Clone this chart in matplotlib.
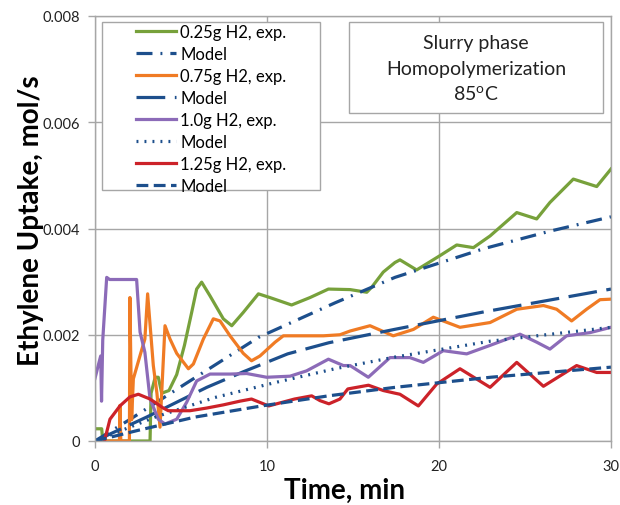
import matplotlib
matplotlib.use("Agg")
import matplotlib.pyplot as plt
from matplotlib.patches import Rectangle

plt.rcParams['font.family'] = ['Lato', 'DejaVu Sans']

# ---- data ----
green_t = [0, 0.39, 0.45, 3.2, 3.26, 3.5, 3.68, 3.88, 4.3, 4.75, 5.2, 5.62, 5.91, 6.2, 6.69, 7.46, 7.95,
           8.62, 9.5, 10.17, 11.43, 12.5, 13.57, 14.83, 15.8, 16.1, 16.76, 17.44, 17.73, 18.7, 20.06,
           21.03, 22.0, 22.97, 24.52, 25.68, 26.45, 27.81, 29.17, 30]
green_v = [0.00023, 0.00023, 0, 0, 0.0009, 0.0012, 0.0012, 0.0009, 0.00095, 0.00125, 0.0018, 0.00242,
           0.00286, 0.00299, 0.00273, 0.0023, 0.00217, 0.00242, 0.00277, 0.0027, 0.00256, 0.0027,
           0.00286, 0.00285, 0.0028, 0.0029, 0.00318, 0.00336, 0.00341, 0.00322, 0.00349, 0.00369,
           0.00364, 0.00386, 0.0043, 0.00418, 0.00449, 0.00493, 0.00479, 0.00512]

orange_t = [0, 1.42, 1.45, 1.5, 2.0, 2.03, 2.13, 2.23, 2.62, 2.9, 3.06, 3.39, 3.6, 3.78, 4.07, 4.36,
            4.75, 5.43, 5.72, 6.3, 6.88, 7.27, 7.85, 8.62, 9.1, 9.59, 10.47, 10.95, 12.11, 13.28,
            14.24, 14.83, 15.99, 17.34, 18.51, 19.67, 21.22, 22.97, 24.52, 26.07, 26.84, 27.71,
            28.58, 29.36, 30]
orange_v = [0, 0, 0.00067, 0, 0, 0.0027, 0.0004, 0.00117, 0.00161, 0.00192, 0.00277, 0.00142, 0.0009,
            0.00026, 0.00217, 0.00192, 0.00165, 0.00136, 0.00145, 0.00192, 0.0023, 0.00226, 0.00198,
            0.00165, 0.00151, 0.0016, 0.00186, 0.00198, 0.00198, 0.00198, 0.002, 0.00207, 0.00217,
            0.00198, 0.0021, 0.00233, 0.00214, 0.00223, 0.00248, 0.00255, 0.00248, 0.00226, 0.00248,
            0.00266, 0.00267]

purple_t = [0, 0.25, 0.33, 0.38, 0.45, 0.68, 0.85, 2.42, 2.62, 2.9, 3.2, 3.68, 4.07, 4.75, 5.33, 5.91,
            6.69, 7.85, 8.82, 9.98, 11.34, 12.3, 13.57, 14.44, 14.83, 15.89, 17.15, 18.31, 19.09,
            20.25, 21.61, 22.97, 24.71, 25.68, 26.45, 27.42, 28.78, 30]
purple_v = [0.00118, 0.0015, 0.0016, 0.00075, 0.0019, 0.00308, 0.00304, 0.00304, 0.00205, 0.00167,
            0.00079, 0.00041, 0.00032, 0.00041, 0.00073, 0.00113, 0.00126, 0.00126, 0.00127, 0.0012,
            0.00122, 0.00132, 0.00154, 0.00142, 0.00142, 0.0012, 0.00157, 0.00157, 0.00148, 0.0017,
            0.00164, 0.0018, 0.00201, 0.00186, 0.00173, 0.00198, 0.00204, 0.00214]

red_t = [0.55, 0.87, 1.45, 2.03, 2.52, 3.2, 3.97, 4.26, 5.52, 6.49, 7.46, 8.43, 9.1, 10.1, 11.6,
         12.6, 13.08, 13.6, 14.24, 14.7, 15.9, 16.76, 17.44, 17.73, 18.8, 19.86, 21.22, 22.97, 24.52,
         26.07, 28.0, 29.17, 30]
red_v = [0, 0.00041, 0.00066, 0.00083, 0.00088, 0.00079, 0.00062, 0.00057, 0.00057, 0.00062, 0.00068,
         0.00075, 0.00079, 0.00066, 0.00079, 0.00085, 0.00076, 0.0007, 0.00079, 0.00098, 0.00105,
         0.00095, 0.0009, 0.00088, 0.00066, 0.00107, 0.00136, 0.00101, 0.00148, 0.00103, 0.00142,
         0.00129, 0.00129]

m025_t = [0, 2, 4.4, 9.5, 13.95, 17.44, 22.6, 26.45, 30]
m025_v = [0, 0.0004, 0.0009, 0.00195, 0.0026, 0.00308, 0.00362, 0.00395, 0.00422]
m075_t = [0, 3, 6.5, 8.6, 11.2, 13.6, 17.4, 22.6, 30]
m075_v = [0, 0.00045, 0.00101, 0.0013, 0.00164, 0.00185, 0.0021, 0.00243, 0.00286]
m100_t = [0, 3.5, 6.98, 10.47, 13.95, 17.44, 23, 30]
m100_v = [0, 0.00045, 0.00082, 0.0011, 0.00136, 0.00158, 0.00188, 0.00214]
m125_t = [0, 2.5, 5.81, 9.69, 13.57, 17.44, 23, 30]
m125_v = [0, 0.0002, 0.00045, 0.00066, 0.00085, 0.00101, 0.0012, 0.00139]

labels = ['0.25g H2, exp.', 'Model', '0.75g H2, exp.', 'Model',
          '1.0g H2, exp.', 'Model', '1.25g H2, exp.', 'Model']
x_ticks = [0, 10, 20, 30]
y_ticks = [0, 0.002, 0.004, 0.006, 0.008]
y_ticklabels = ['0', '0.002', '0.004', '0.006', '0.008']
info_lines = ['Slurry phase', 'Homopolymerization', '85$^{\\mathregular{o}}$C']

# ---- styles ----
GREEN = '#77A13B'
ORANGE = '#F07B24'
PURPLE = '#8C6BB8'
RED = '#CC2229'
BLUE = '#1D4F8C'
GRID = '#A6A6A6'
lw_exp = 2.3
lw_mod = 2.3

W, H = 620, 506
L, R, T, B = 95, 611, 17, 442
fig = plt.figure(figsize=(W / 100, H / 100), dpi=100)
ax = fig.add_axes([L / W, 1 - B / H, (R - L) / W, (B - T) / H])
aw, ah = R - L, B - T

h = []
h += ax.plot(green_t, green_v, color=GREEN, lw=lw_exp, solid_joinstyle='round')
h += ax.plot(m025_t, m025_v, color=BLUE, lw=lw_mod, linestyle=(0, (5, 2.5, 0.6, 2.5)))
h += ax.plot(orange_t, orange_v, color=ORANGE, lw=lw_exp, solid_joinstyle='round')
h += ax.plot(m075_t, m075_v, color=BLUE, lw=lw_mod, linestyle=(0, (9, 3)))
h += ax.plot(purple_t, purple_v, color=PURPLE, lw=lw_exp, solid_joinstyle='round')
h += ax.plot(m100_t, m100_v, color=BLUE, lw=lw_mod, linestyle=(0, (0.6, 1.9)))
h += ax.plot(red_t, red_v, color=RED, lw=lw_exp, solid_joinstyle='round')
h += ax.plot(m125_t, m125_v, color=BLUE, lw=lw_mod, linestyle=(0, (3.7, 1.7)))

ax.set_xlim(0, 30)
ax.set_ylim(0, 0.008)
ax.set_xticks(x_ticks)
ax.set_yticks(y_ticks)
ax.set_yticklabels(y_ticklabels)
ax.grid(True, color=GRID, lw=1)
ax.set_axisbelow(True)
for s in ax.spines.values():
    s.set_color(GRID)
    s.set_linewidth(1)
ax.tick_params(axis='both', colors=GRID, labelcolor='#222222', labelsize=10.5,
               length=5, width=1, direction='out')
ax.tick_params(axis='x', pad=8)
ax.tick_params(axis='y', pad=6)

ax.set_xlabel('Time, min', fontsize=20, fontweight='bold', va='top')
ax.xaxis.set_label_coords((344 - L) / aw, (B - 478) / ah)
ax.set_ylabel('Ethylene Uptake, mol/s', fontsize=20, fontweight='bold')
ax.yaxis.set_label_coords((44 - L) / aw, (B - 221) / ah)

# legend box (drawn separately, as in the reference)
ax.add_patch(Rectangle(((102 - L) / aw, (B - 191) / ah), (320 - 102) / aw, (191 - 23) / ah,
                       transform=ax.transAxes, facecolor='white', edgecolor=GRID, lw=1, zorder=4))
leg = ax.legend(h, labels, loc='upper left', bbox_to_anchor=((136 - L) / aw, (B - 25) / ah),
                borderaxespad=0, borderpad=0, fontsize=12, frameon=False,
                handlelength=2.4, handletextpad=0.25, labelspacing=0.36)
leg.set_zorder(5)

# info box
x0 = (349 - L) / aw
x1 = (603 - L) / aw
y0 = (B - 114) / ah
y1 = (B - 23) / ah
ax.add_patch(Rectangle((x0, y0), x1 - x0, y1 - y0, transform=ax.transAxes,
                       facecolor='white', edgecolor=GRID, lw=1, zorder=5))
cx = (x0 + x1) / 2
for i, line in enumerate(info_lines):
    ax.text(cx, y1 - (20 + 26 * i) / ah, line, transform=ax.transAxes, ha='center',
            va='center', fontsize=14, color='#222222', zorder=6)

fig.savefig('out.png', dpi=100)
